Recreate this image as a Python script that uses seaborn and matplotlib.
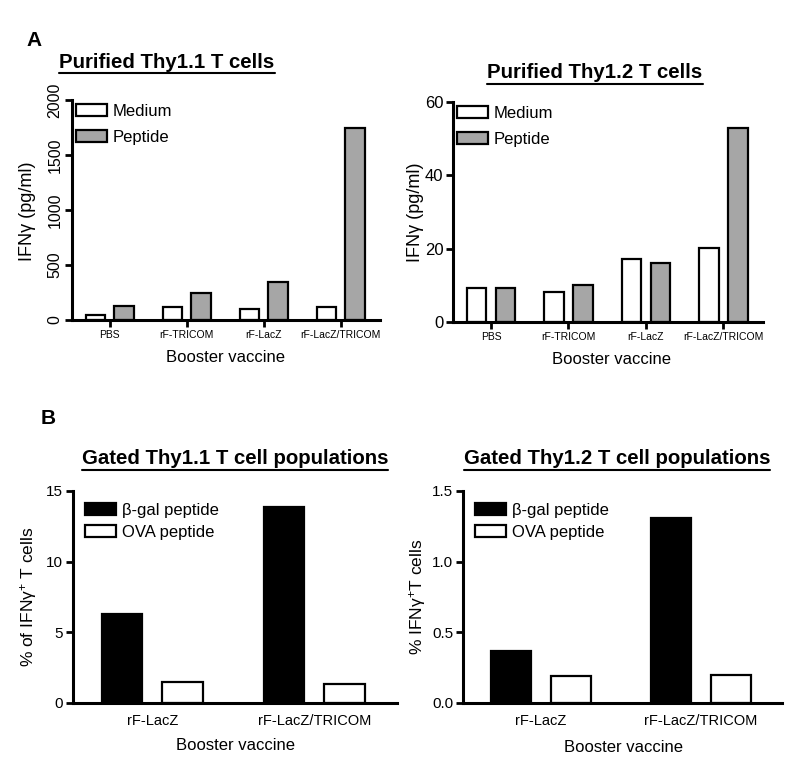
import matplotlib
matplotlib.use('Agg')
import matplotlib.pyplot as plt
import seaborn as sns
import pandas as pd
from matplotlib.lines import Line2D

# Panel A data (IFN-gamma, pg/ml)
vaccines_a = ['PBS', 'rF-TRICOM', 'rF-LacZ', 'rF-LacZ/TRICOM']
stim_a = ['Medium', 'Peptide']
thy11_medium = [45, 118, 97, 118]
thy11_peptide = [124, 242, 345, 1748]
thy12_medium = [9.2, 8.2, 17.1, 20.1]
thy12_peptide = [9.2, 10.2, 16.2, 52.9]

# Panel B data (% IFN-gamma+ T cells)
vaccines_b = ['rF-LacZ', 'rF-LacZ/TRICOM']
stim_b = ['β-gal peptide', 'OVA peptide']
gated11_bgal = [6.3, 13.9]
gated11_ova = [1.5, 1.37]
gated12_bgal = [0.365, 1.307]
gated12_ova = [0.188, 0.2]

sns.set_style('ticks')
plt.rcParams['font.family'] = ['Liberation Sans', 'DejaVu Sans']
plt.rcParams['mathtext.fontset'] = 'custom'
plt.rcParams['mathtext.rm'] = 'Liberation Sans'
plt.rcParams['mathtext.it'] = 'Liberation Sans'
for key in ['text.color', 'axes.labelcolor', 'xtick.color', 'ytick.color',
            'axes.edgecolor']:
    plt.rcParams[key] = 'black'

W, H = 800, 778
fig = plt.figure(figsize=(8, 7.78), dpi=100)


def px_axes(x0, y0, x1, y1):
    return fig.add_axes([x0 / W, 1 - y1 / H, (x1 - x0) / W, (y1 - y0) / H])


def make_df(cats, hues, first, second):
    rows = []
    for c, a, b in zip(cats, first, second):
        rows.append({'vaccine': c, 'stim': hues[0], 'value': a})
        rows.append({'vaccine': c, 'stim': hues[1], 'value': b})
    return pd.DataFrame(rows)


def draw_panel(ax, df, hues, colors, ymax, yticks, yticklabels, ytick_size,
               xtick_size, show_xticks, legend_kw):
    sns.barplot(data=df, x='vaccine', y='value', hue='stim', hue_order=hues,
                palette=dict(zip(hues, colors)), ax=ax, width=0.75, gap=0.33,
                edgecolor='black', linewidth=1.6, saturation=1, errorbar=None)
    n = df['vaccine'].nunique()
    ax.set_xlim(-0.49, n - 0.49)
    ax.set_ylim(0, ymax)
    ax.set_yticks(yticks)
    ax.set_yticklabels(yticklabels, fontsize=ytick_size)
    ax.set_xlabel('')
    ax.set_ylabel('')
    for lab in ax.get_xticklabels():
        lab.set_fontsize(xtick_size)
    sns.despine(ax=ax)
    for s in ['left', 'bottom']:
        ax.spines[s].set_linewidth(2.2)
        ax.spines[s].set_zorder(5)
    ax.tick_params(axis='y', width=2, length=5, pad=2)
    if show_xticks:
        ax.tick_params(axis='x', width=2, length=5, pad=2)
    else:
        ax.tick_params(axis='x', length=0, pad=8)
    leg = ax.legend(loc='upper left', frameon=False, fontsize=12,
                    **legend_kw)
    for h in leg.legend_handles:
        h.set_linewidth(1.6)
        h.set_edgecolor('black')
    return ax


legA = dict(handlelength=1.85, handleheight=0.75, handletextpad=0.35,
            labelspacing=0.65, borderaxespad=0.15, borderpad=0.1)
legB = dict(handlelength=1.85, handleheight=0.8, handletextpad=0.4,
            labelspacing=0.4, borderaxespad=0.6, borderpad=0.1)

gray = '#a6a6a6'

ax1 = px_axes(72, 100, 380, 320)
draw_panel(ax1, make_df(vaccines_a, stim_a, thy11_medium, thy11_peptide),
           stim_a, ['white', gray], 2000, [0, 500, 1000, 1500, 2000],
           ['0', '500', '1000', '1500', '2000'], 11.5, 7.5, True, legA)
for lab in ax1.get_yticklabels():
    lab.set_rotation(90)
    lab.set_va('center')

ax2 = px_axes(453, 102, 763, 322)
draw_panel(ax2, make_df(vaccines_a, stim_a, thy12_medium, thy12_peptide),
           stim_a, ['white', gray], 60, [0, 20, 40, 60],
           ['0', '20', '40', '60'], 12, 7.5, True, legA)

ax3 = px_axes(73, 491, 397, 703)
draw_panel(ax3, make_df(vaccines_b, stim_b, gated11_bgal, gated11_ova),
           stim_b, ['black', 'white'], 15, [0, 5, 10, 15],
           ['0', '5', '10', '15'], 11, 10.5, False, legB)

ax4 = px_axes(463, 491, 782, 703)
draw_panel(ax4, make_df(vaccines_b, stim_b, gated12_bgal, gated12_ova),
           stim_b, ['black', 'white'], 1.5, [0, 0.5, 1.0, 1.5],
           ['0.0', '0.5', '1.0', '1.5'], 11, 10.5, False, legB)


def ftext(x, y, s, **kw):
    return fig.text(x / W, 1 - y / H, s, ha='center', va='center', **kw)


# panel letters
ftext(34, 40, 'A', fontsize=15, fontweight='bold')
ftext(48, 418, 'B', fontsize=15, fontweight='bold')

# titles (underlined)
titles = [
    ftext(167, 62, 'Purified Thy1.1 T cells', fontsize=14.7, fontweight='bold'),
    ftext(595, 73, 'Purified Thy1.2 T cells', fontsize=14.7, fontweight='bold'),
    ftext(235, 459, 'Gated Thy1.1 T cell populations', fontsize=14.7, fontweight='bold'),
    ftext(617, 459, 'Gated Thy1.2 T cell populations', fontsize=14.7, fontweight='bold'),
]

# y labels
ftext(27, 211, 'IFNγ (pg/ml)', fontsize=13, rotation=90)
ftext(416, 212, 'IFNγ (pg/ml)', fontsize=13, rotation=90)
ftext(29, 597, '% of IFNγ$^{+}$ T cells', fontsize=12.5, rotation=90)
ftext(417, 597, '% IFNγ$^{+}$T cells', fontsize=12.5, rotation=90)

# x labels
ftext(225, 358, 'Booster vaccine', fontsize=12)
ftext(611, 360, 'Booster vaccine', fontsize=12)
ftext(236, 746, 'Booster vaccine', fontsize=12)
ftext(623, 747, 'Booster vaccine', fontsize=12)

fig.canvas.draw()
renderer = fig.canvas.get_renderer()
for t in titles:
    bb = t.get_window_extent(renderer)
    y = (bb.y0 - 1.5) / fig.bbox.height
    fig.add_artist(Line2D([bb.x0 / fig.bbox.width, bb.x1 / fig.bbox.width],
                          [y, y], color='black', linewidth=1.5))

fig.savefig('out.png', dpi=100)
